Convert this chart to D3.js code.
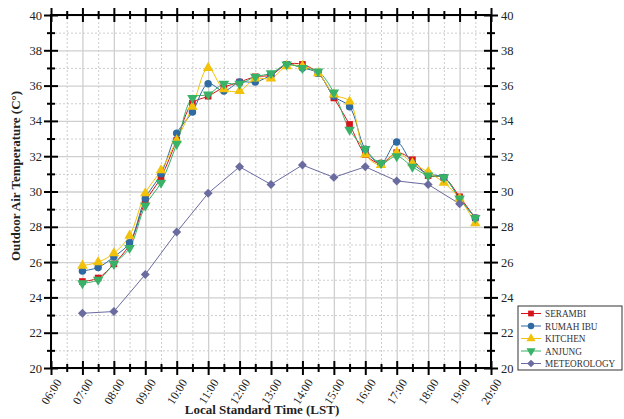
<!DOCTYPE html>
<html>
<head>
<meta charset="utf-8">
<script src="https://cdn.jsdelivr.net/npm/d3@7"></script>
<style>
  body { margin: 0; background: #fff; }
  text { font-family: "Liberation Serif", "Times New Roman", serif; }
</style>
</head>
<body>
<div id="chart"></div>
<script>

//- Data
const times = ["07:00","07:30","08:00","08:30","09:00","09:30","10:00","10:30","11:00","11:30",
    "12:00","12:30","13:00","13:30","14:00","14:30","15:00","15:30","16:00","16:30",
    "17:00","17:30","18:00","18:30","19:00","19:30"];

const serambi  = [24.9,25.1,25.9,27.0,29.4,30.8,32.9,35.0,35.4,35.9,36.2,36.5,36.6,37.2,37.2,36.7,35.3,33.8,32.1,31.6,32.2,31.8,30.9,30.8,29.7,28.5];
const rumahIbu = [25.5,25.7,26.3,27.1,29.6,31.0,33.3,34.5,36.1,35.7,36.2,36.2,36.6,37.2,37.0,36.7,35.4,34.8,32.4,31.6,32.8,31.6,31.0,30.8,29.6,28.5];
const kitchen  = [25.8,26.0,26.5,27.5,29.9,31.2,32.9,34.8,37.0,35.8,35.7,36.4,36.4,37.1,37.1,36.7,35.5,35.1,32.1,31.5,32.2,31.6,31.1,30.5,29.6,28.2];
const anjung   = [24.8,25.0,25.9,26.8,29.2,30.5,32.7,35.3,35.5,36.1,36.1,36.5,36.7,37.2,37.0,36.8,35.6,33.5,32.4,31.6,32.0,31.4,30.9,30.8,29.6,28.5];

const meteoTimes = ["07:00","08:00","09:00","10:00","11:00","12:00","13:00","14:00","15:00","16:00","17:00","18:00","19:00"];
const meteorology = [23.1,23.2,25.3,27.7,29.9,31.4,30.4,31.5,30.8,31.4,30.6,30.4,29.3];

const xTickLabels = ["06:00","07:00","08:00","09:00","10:00","11:00","12:00","13:00",
    "14:00","15:00","16:00","17:00","18:00","19:00","20:00"];
const yTicks = [20,22,24,26,28,30,32,34,36,38,40];


//- Layout
const WIDTH = 624, HEIGHT = 419;
const plot = { left: 51, right: 491, top: 15, bottom: 368 };

function toHours(s){
    let p = s.split(":");
    return +p[0] + (+p[1]) / 60;
}

const series = [
    { name: "SERAMBI",     color: "#d8141b", symbol: d3.symbolSquare,   size: 44, rot: 0,   times: times,      values: serambi,   curve: true },
    { name: "RUMAH IBU",   color: "#2f6aa3", symbol: d3.symbolCircle,   size: 44, rot: 0,   times: times,      values: rumahIbu,  curve: true },
    { name: "KITCHEN",     color: "#f2c20a", symbol: d3.symbolTriangle, size: 48, rot: 0,   times: times,      values: kitchen,   curve: true },
    { name: "ANJUNG",      color: "#37b266", symbol: d3.symbolTriangle, size: 48, rot: 180, times: times,      values: anjung,    curve: true },
    { name: "METEOROLOGY", color: "#6a6b9f", symbol: d3.symbolSquare,   size: 40, rot: 45,  times: meteoTimes, values: meteorology, curve: false }
];


let svg = d3.select("#chart").append("svg")
    .attr("width", WIDTH)
    .attr("height", HEIGHT)
    .attr("font-family", "Liberation Serif, Times New Roman, serif");

let xScale = d3.scaleLinear()
    .domain([toHours(xTickLabels[0]), toHours(xTickLabels[xTickLabels.length - 1])])
    .range([plot.left, plot.right]);

let yScale = d3.scaleLinear()
    .domain([yTicks[0], yTicks[yTicks.length - 1]])
    .range([plot.bottom, plot.top]);

const majorX = xTickLabels.map(toHours);
const minorX = majorX.slice(0, -1).map(h => h + 0.5);
const minorY = yTicks.slice(0, -1).map(v => v + 1);


//-- Grid
let gridGroup = svg.append("g");

gridGroup.append("g")
    .attr("transform", `translate(0, ${plot.bottom})`)
    .call(d3.axisBottom(xScale).tickValues(minorX).tickSize(-(plot.bottom - plot.top)).tickFormat(""))
    .call(g => g.select(".domain").remove())
    .selectAll("line").attr("stroke", "#cdcdcd").attr("stroke-dasharray", "2,2");

gridGroup.append("g")
    .attr("transform", `translate(${plot.left}, 0)`)
    .call(d3.axisLeft(yScale).tickValues(minorY).tickSize(-(plot.right - plot.left)).tickFormat(""))
    .call(g => g.select(".domain").remove())
    .selectAll("line").attr("stroke", "#cdcdcd").attr("stroke-dasharray", "2,2");

gridGroup.append("g")
    .attr("transform", `translate(0, ${plot.bottom})`)
    .call(d3.axisBottom(xScale).tickValues(majorX).tickSize(-(plot.bottom - plot.top)).tickFormat(""))
    .call(g => g.select(".domain").remove())
    .selectAll("line").attr("stroke", "#cfcfcf").attr("stroke-width", 1.3);

gridGroup.append("g")
    .attr("transform", `translate(${plot.left}, 0)`)
    .call(d3.axisLeft(yScale).tickValues(yTicks).tickSize(-(plot.right - plot.left)).tickFormat(""))
    .call(g => g.select(".domain").remove())
    .selectAll("line").attr("stroke", "#cfcfcf").attr("stroke-width", 1.3);


//-- Lines and markers
let lineGroup = svg.append("g");
let markerGroup = svg.append("g");

series.forEach(s => {
    let pts = s.times.map((t, i) => [toHours(t), s.values[i]]);

    let line = d3.line()
        .x(d => xScale(d[0]))
        .y(d => yScale(d[1]))
        .curve(s.curve ? d3.curveCatmullRom.alpha(0.5) : d3.curveLinear);

    lineGroup.append("path")
        .datum(pts)
        .attr("d", line)
        .attr("fill", "none")
        .attr("stroke", s.color)
        .attr("stroke-width", 1);

    markerGroup.append("g").selectAll("path")
        .data(pts)
        .enter()
        .append("path")
        .attr("d", d3.symbol().type(s.symbol).size(s.size))
        .attr("transform", d => `translate(${xScale(d[0])}, ${yScale(d[1])}) rotate(${s.rot})`)
        .attr("fill", s.color);
});


//-- Axes (frame with crossing ticks)
function styleAxis(g, minor, vertical){
    g.select(".domain").remove();
    g.attr("font-family", null);
    g.selectAll(".tick line").attr("stroke", "#000").attr("stroke-width", 2);
    g.selectAll(".tick").each(function(v){
        let len = minor.indexOf(v) >= 0 ? 4 : 7;
        let l = d3.select(this).select("line");
        if (vertical) l.attr("x1", -len).attr("x2", len);
        else l.attr("y1", -len).attr("y2", len);
    });
}

const allX = majorX.concat(minorX);
const allY = yTicks.concat(minorY);

//- Left
let leftAxis = svg.append("g")
    .attr("transform", `translate(${plot.left}, 0)`)
    .call(d3.axisLeft(yScale).tickValues(allY).tickFormat(v => yTicks.indexOf(v) >= 0 ? v : ""));
styleAxis(leftAxis, minorY, true);
leftAxis.selectAll(".tick text").attr("x", -9).attr("font-size", 12.5).attr("fill", "#222");

//- Right
let rightAxis = svg.append("g")
    .attr("transform", `translate(${plot.right}, 0)`)
    .call(d3.axisRight(yScale).tickValues(allY).tickFormat(v => yTicks.indexOf(v) >= 0 ? v : ""));
styleAxis(rightAxis, minorY, true);
rightAxis.selectAll(".tick text").attr("x", 10).attr("font-size", 12.5).attr("fill", "#222");

//- Top
let topAxis = svg.append("g")
    .attr("transform", `translate(0, ${plot.top})`)
    .call(d3.axisTop(xScale).tickValues(allX).tickFormat(""));
styleAxis(topAxis, minorX, false);

//- Bottom
let bottomAxis = svg.append("g")
    .attr("transform", `translate(0, ${plot.bottom})`)
    .call(d3.axisBottom(xScale).tickValues(allX)
        .tickFormat(v => majorX.indexOf(v) >= 0 ? xTickLabels[majorX.indexOf(v)] : ""));
styleAxis(bottomAxis, minorX, false);
bottomAxis.selectAll(".tick text")
    .attr("font-size", 12)
    .attr("fill", "#222")
    .attr("text-anchor", "end")
    .attr("transform", "translate(7, 12) rotate(-58)")
    .attr("x", 0).attr("y", 0).attr("dy", "0.35em");

//- Frame lines
svg.append("rect")
    .attr("x", plot.left).attr("y", plot.top)
    .attr("width", plot.right - plot.left).attr("height", plot.bottom - plot.top)
    .attr("fill", "none").attr("stroke", "#000").attr("stroke-width", 2);


//-- Axis titles
svg.append("text")
    .attr("transform", `translate(20, 176) rotate(-90)`)
    .attr("text-anchor", "middle")
    .attr("font-size", 13)
    .attr("font-weight", "bold")
    .attr("fill", "#222")
    .text("Outdoor Air Temperature (C\u00b0)");

svg.append("text")
    .attr("x", 262).attr("y", 414)
    .attr("text-anchor", "middle")
    .attr("font-size", 13)
    .attr("font-weight", "bold")
    .attr("fill", "#222")
    .text("Local Standard Time (LST)");


//-- Legend
let legend = svg.append("g").attr("transform", "translate(518, 306)");

legend.append("rect")
    .attr("width", 104).attr("height", 64)
    .attr("fill", "#fff").attr("stroke", "#333").attr("stroke-width", 1);

series.forEach((s, i) => {
    let y = 7.5 + i * 12.5;
    legend.append("line")
        .attr("x1", 3).attr("x2", 23).attr("y1", y).attr("y2", y)
        .attr("stroke", s.color).attr("stroke-width", 1);
    legend.append("path")
        .attr("d", d3.symbol().type(s.symbol).size(s.size * 0.75))
        .attr("transform", `translate(13, ${y}) rotate(${s.rot})`)
        .attr("fill", s.color);
    legend.append("text")
        .attr("transform", `translate(27, ${y}) scale(0.84, 1)`)
        .attr("dy", "0.35em")
        .attr("font-size", 11)
        .attr("fill", "#333")
        .text(s.name);
});

</script>
</body>
</html>
